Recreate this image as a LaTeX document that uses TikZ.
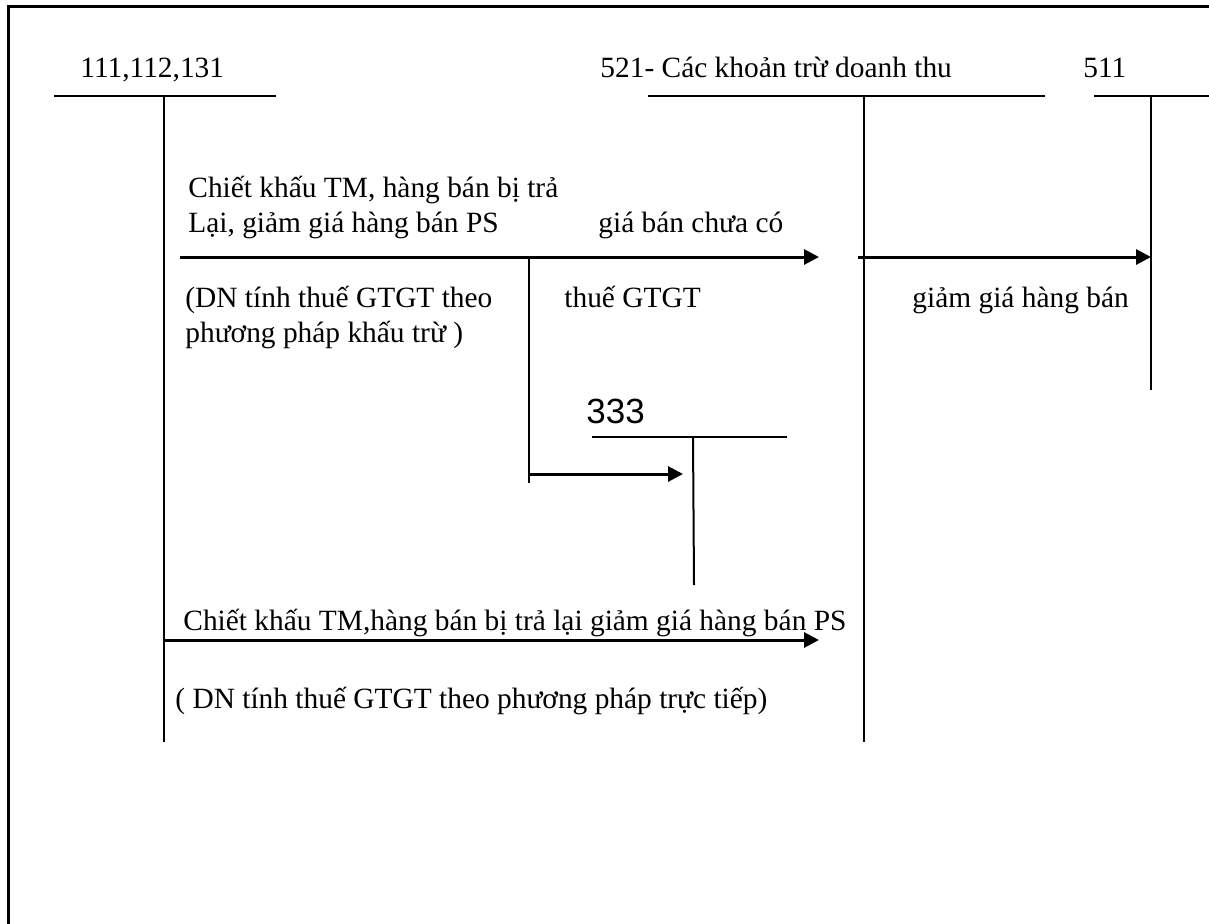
\documentclass[tikz,border=0pt]{standalone}
\usepackage{fontspec}
\setmainfont{Liberation Serif}
\newfontfamily\numfont{Liberation Sans}
\usetikzlibrary{arrows.meta, positioning}

\begin{document}
\begin{tikzpicture}[
        x=0.5pt, y=-0.5pt,
        lbl/.style={anchor=base west, inner sep=0pt, font=\fontsize{14.7}{17}\selectfont},
        acc/.style={anchor=base west, inner sep=0pt, font=\numfont\fontsize{17.5}{20}\selectfont},
        tline/.style={line width=1pt},
        arr/.style={-{Triangle[length=7.5pt, width=7.5pt]}, line width=1.5pt},
        frame/.style={line width=1.5pt},
    ]
        \useasboundingbox (0,0) rectangle (1209,923);

        % Frame
        \draw[frame] (8,930) -- (8,6) -- (1220,6);

        % Account 111,112,131
        \node[lbl] (n111) at (80,77) {111,112,131};
        \coordinate (a1l) at (54,96);
        \coordinate (a1r) at (276,96);
        \coordinate (a1t) at (164,96);
        \coordinate (a1b) at (164,742);
        \draw[tline] (a1l) -- (a1r);
        \draw[tline] (a1t) -- (a1b);

        % Account 521
        \node[lbl] (n521) at (600,77) {521- Các khoản trừ doanh thu};
        \coordinate (a2l) at (648,96);
        \coordinate (a2r) at (1045,96);
        \coordinate (a2t) at (864,96);
        \coordinate (a2b) at (864,742);
        \draw[tline] (a2l) -- (a2r);
        \draw[tline] (a2t) -- (a2b);

        % Account 511
        \node[lbl] (n511) at (1083,77) {511};
        \coordinate (a3l) at (1094,96);
        \coordinate (a3r) at (1215,96);
        \coordinate (a3t) at (1151,96);
        \coordinate (a3b) at (1151,390);
        \draw[tline] (a3l) -- (a3r);
        \draw[tline] (a3t) -- (a3b);

        % Account 333
        \node[acc] (n333) at (586,423) {333};
        \coordinate (a4l) at (592,437);
        \coordinate (a4r) at (787,437);
        \coordinate (a4t) at (693,437);
        \coordinate (a4b) at (694,585);
        \draw[tline] (a4l) -- (a4r);
        \draw[tline] (a4t) -- (a4b);

        % Upper entry: 111 -> 521
        \node[lbl] (t1a) at (188,197) {Chiết khấu TM, hàng bán bị trả};
        \node[lbl] (t1b) at (188,232) {Lại, giảm giá hàng bán PS};
        \node[lbl] (t1c) at (598,232) {giá bán chưa có};
        \node[lbl] (t1d) at (185,307) {(DN tính thuế GTGT theo};
        \node[lbl] (t1e) at (185,342) {phương pháp khấu trừ )};
        \coordinate (e1s) at (180,257);
        \coordinate (e1e) at (819,257);
        \draw[arr] (e1s) -- (e1e);

        % VAT branch -> 333
        \node[lbl] (t2a) at (564,307) {thuế GTGT};
        \coordinate (e2t) at (529,257);
        \coordinate (e2b) at (529,483);
        \coordinate (e2s) at (529,474);
        \coordinate (e2e) at (683,474);
        \draw[tline] (e2t) -- (e2b);
        \draw[arr] (e2s) -- (e2e);

        % Transfer 521 -> 511
        \node[lbl] (t3a) at (912,307) {giảm giá hàng bán};
        \coordinate (e3s) at (858,257);
        \coordinate (e3e) at (1151,257);
        \draw[arr] (e3s) -- (e3e);

        % Lower entry: direct method
        \node[lbl] (t4a) at (183,630) {Chiết khấu TM,hàng bán bị trả lại giảm giá hàng bán PS};
        \node[lbl] (t4b) at (175,708) {( DN tính thuế GTGT theo phương pháp trực tiếp)};
        \coordinate (e4s) at (164,640);
        \coordinate (e4e) at (819,640);
        \draw[arr] (e4s) -- (e4e);
    \end{tikzpicture}
\end{document}
